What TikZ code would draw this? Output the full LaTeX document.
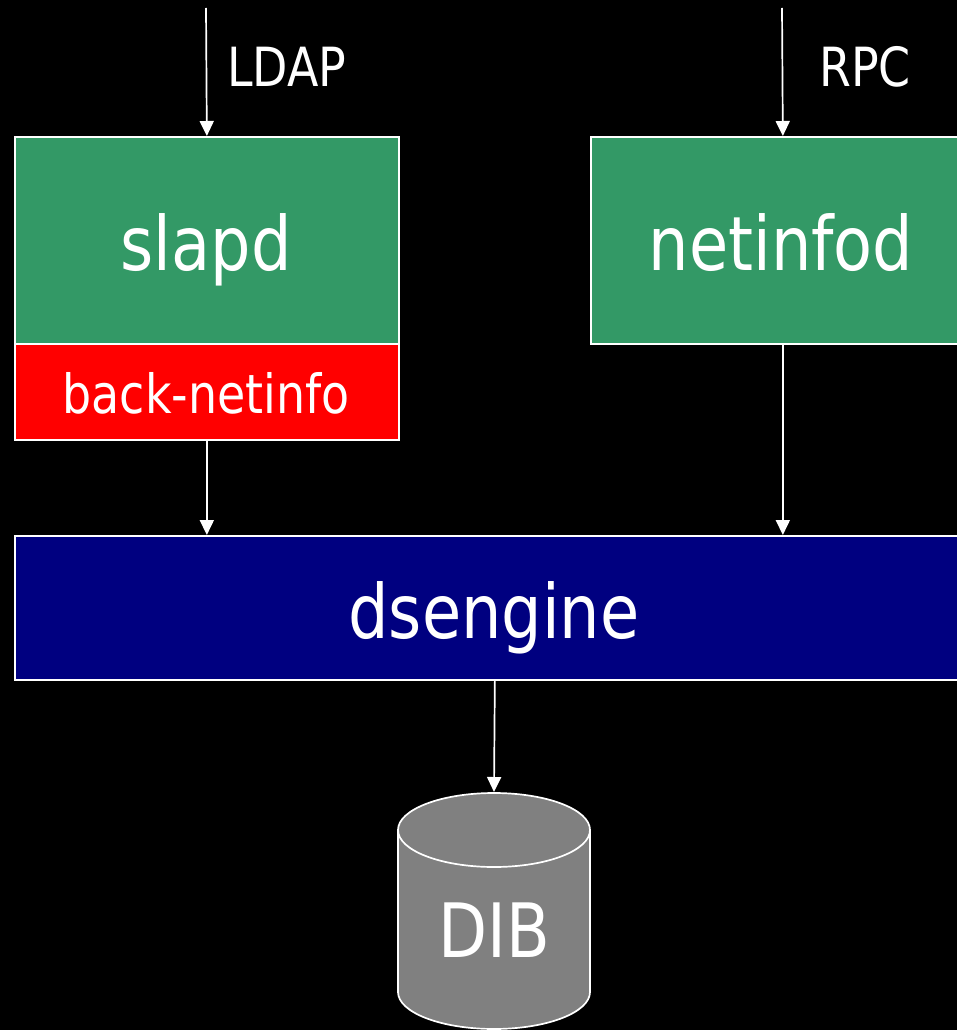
\documentclass[tikz,border=0pt]{standalone}
\usepackage{fontspec}
\setmainfont{DejaVu Sans}[FakeStretch=0.85]
\usetikzlibrary{arrows.meta}
\definecolor{boxgreen}{HTML}{339966}
\definecolor{boxred}{HTML}{FF0000}
\definecolor{boxnavy}{HTML}{000080}
\definecolor{dbgray}{HTML}{808080}
\begin{document}
\begin{tikzpicture}[x=1pt,y=-1pt,
  box/.style={draw=white, line width=1.7pt, anchor=north west, inner sep=0pt},
  lbl/.style={text=white, inner sep=0pt, anchor=base},
  arr/.style={draw=white, line width=1.7pt, -{Triangle[width=14pt,length=15pt]}},
  bigtxt/.style={font=\fontsize{75}{80}\selectfont},
  midtxt/.style={font=\fontsize{54}{60}\selectfont}]
\fill[black] (0,0) rectangle (957,1030);
\useasboundingbox (0,0) rectangle (957,1030);
% boxes
\node[box, fill=boxgreen, minimum width=384pt, minimum height=207pt] (slapd) at (14,136) {};
\node[box, fill=boxred, minimum width=384pt, minimum height=96pt] (back) at (14,343) {};
\node[box, fill=boxgreen, minimum width=384pt, minimum height=207pt] (netinfod) at (590,136) {};
\node[box, fill=boxnavy, minimum width=960pt, minimum height=144pt] (dse) at (14,535) {};
% texts
\node[lbl, bigtxt] (slapdtxt) at (206,270) {slapd};
\node[lbl, midtxt] (backtxt) at (206,413) {back-netinfo};
\node[lbl, bigtxt] (netinfodtxt) at (781,270) {netinfod};
\node[lbl, bigtxt] (dsetxt) at (494,638) {dsengine};
\node[lbl, midtxt, anchor=base west] (ldap) at (227,87) {LDAP};
\node[lbl, midtxt, anchor=base west] (rpc) at (819,87) {RPC};
% cylinder
\filldraw[fill=dbgray, draw=white, line width=1.7pt]
  (398,830) -- (398,992) arc[start angle=180,end angle=360,x radius=96pt,y radius=37pt]
  -- (590,830) arc[start angle=0,end angle=180,x radius=96pt,y radius=37pt] -- cycle;
\draw[white, line width=1.7pt] (398,830) arc[start angle=180,end angle=360,x radius=96pt,y radius=37pt];
\node[lbl, bigtxt] (dib) at (494,957) {DIB};
% connectors
\coordinate (ldapin) at (206,8);
\coordinate (rpcin) at (782,8);
\coordinate (dibtop) at (494,792);
\draw[arr] (ldapin) -- (slapd.north);
\draw[arr] (rpcin) -- (netinfod.north);
\draw[arr] (back.south) -- (back.south |- dse.north);
\draw[arr] (netinfod.south) -- (netinfod.south |- dse.north);
\draw[arr] (dse.south) -- (dibtop);
\end{tikzpicture}
\end{document}
